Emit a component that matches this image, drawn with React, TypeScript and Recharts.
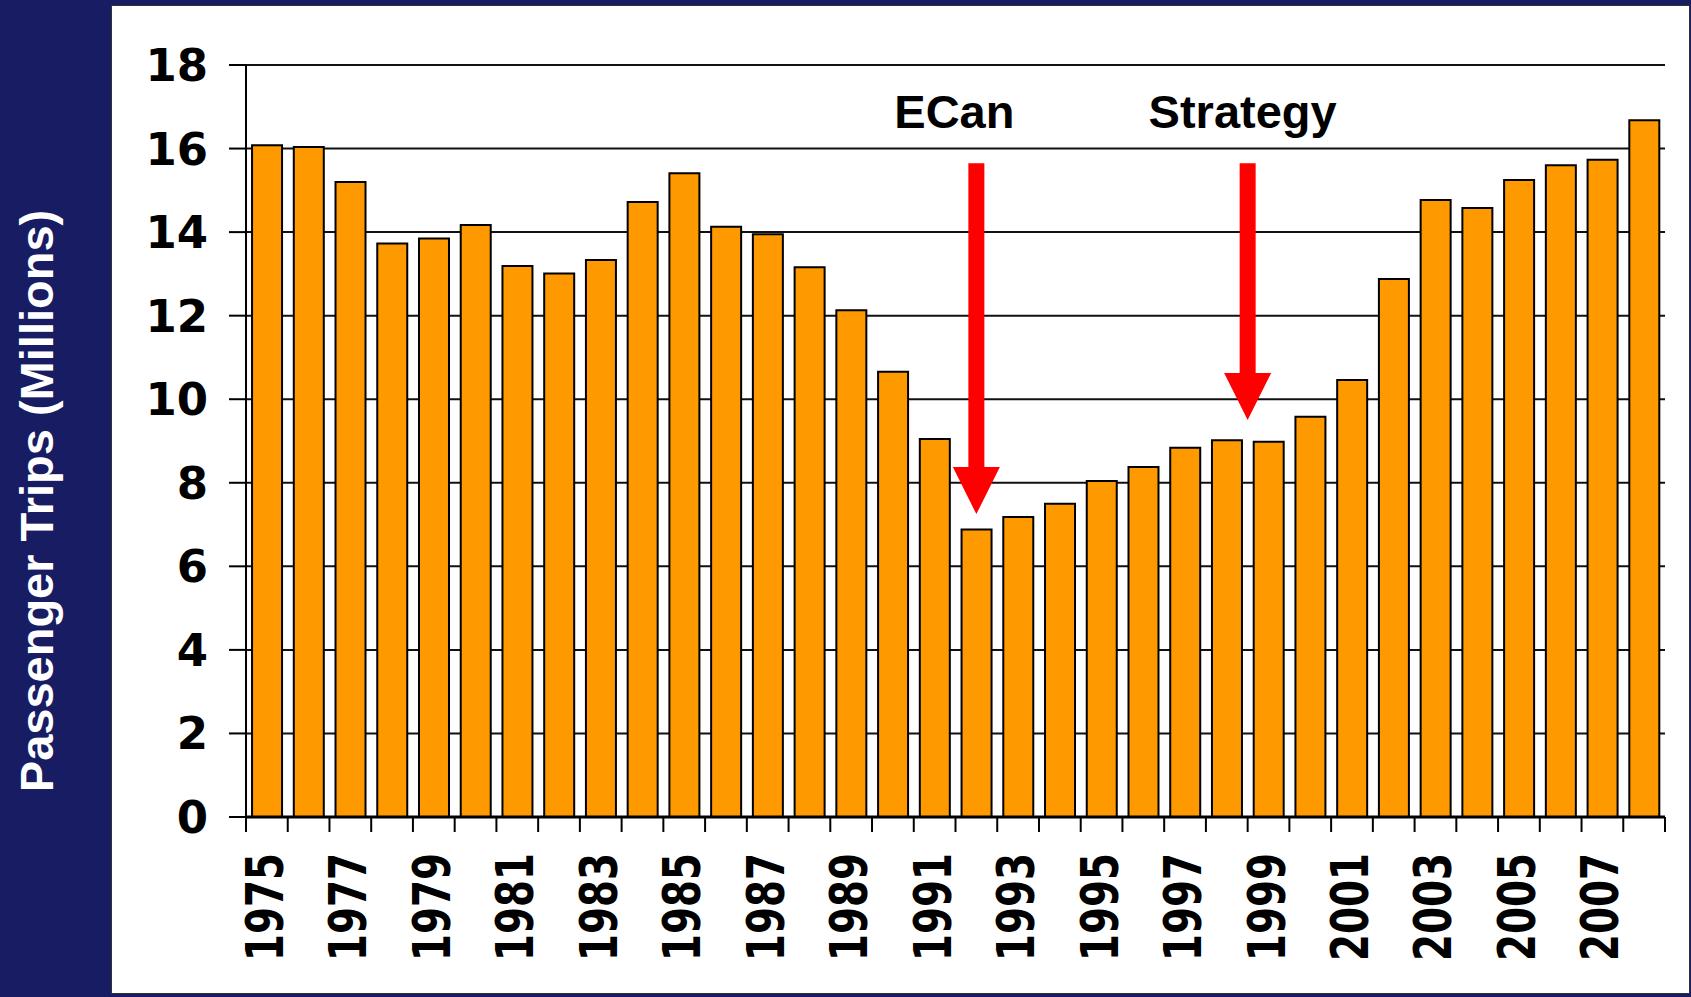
import React from 'react';
import {
  BarChart, Bar, XAxis, YAxis, CartesianGrid, ReferenceLine
} from 'recharts';

// years on the category axis
const years = [
  '1975', '1976', '1977', '1978', '1979', '1980', '1981', '1982', '1983', '1984',
  '1985', '1986', '1987', '1988', '1989', '1990', '1991', '1992', '1993', '1994',
  '1995', '1996', '1997', '1998', '1999', '2000', '2001', '2002', '2003', '2004',
  '2005', '2006', '2007', '2008'
];

// passenger trips, millions
const trips = [
  16.08, 16.04, 15.2, 13.73, 13.85, 14.17, 13.19, 13.01, 13.33, 14.72,
  15.41, 14.13, 13.95, 13.16, 12.13, 10.66, 9.05, 6.88, 7.18, 7.5,
  8.04, 8.38, 8.84, 9.02, 8.98, 9.58, 10.46, 12.88, 14.77, 14.58,
  15.25, 15.6, 15.73, 16.68
];

const labelYears = [
  '1975', '1977', '1979', '1981', '1983', '1985', '1987', '1989', '1991',
  '1993', '1995', '1997', '1999', '2001', '2003', '2005', '2007'
];

const yTicks = [0, 2, 4, 6, 8, 10, 12, 14, 16, 18];

// arrows: text, year, top value, tip value, band position
const arrowLabels = ['ECan', 'Strategy'];
const arrowYears = ['1992', '1999'];
const arrowTops = [15.65, 15.65];
const arrowTips = [7.25, 9.5];
const arrowPositions: ('middle' | 'start')[] = ['middle', 'start'];
const arrowTextShift = [-22, -5];

const data = years.map((year, i) => ({ year, trips: trips[i] }));

const NAVY = '#171c63';
const ORANGE = '#ff9900';

const XTick = (props: any) => {
  const { x, y, payload } = props;
  const half = payload.offset ?? 0;
  const isLast = payload.value === years[years.length - 1];
  return (
    <g>
      <line x1={x - half} x2={x - half} y1={y} y2={y + 15} stroke="#000" strokeWidth={2} />
      {isLast && (
        <line x1={x + half} x2={x + half} y1={y} y2={y + 15} stroke="#000" strokeWidth={2} />
      )}
      {labelYears.includes(payload.value) && (
        <text
          x={0}
          y={0}
          transform={`translate(${x + 16},${y + 36}) rotate(-90)`}
          textAnchor="end"
          fontSize={51}
          fontWeight="bold"
          fontFamily="DejaVu Sans"
          fill="#000"
          textLength={108}
          lengthAdjust="spacingAndGlyphs"
        >
          {payload.value}
        </text>
      )}
    </g>
  );
};

const renderArrow = (p: any, i: number) => {
  const x = p.x1;
  const top = p.y1;
  const tip = p.y2;
  const neck = tip - 47;
  const pts = [
    [x - 8, top], [x + 8, top], [x + 8, neck], [x + 23.5, neck],
    [x, tip], [x - 23.5, neck], [x - 8, neck]
  ].map((q) => q.join(',')).join(' ');
  return (
    <g>
      <polygon points={pts} fill="#ff0000" />
      <text
        x={x + arrowTextShift[i]}
        y={top - 35}
        textAnchor="middle"
        fontSize={47}
        fontWeight="bold"
        fontFamily="Liberation Sans, Arial, sans-serif"
        fill="#000"
      >
        {arrowLabels[i]}
      </text>
    </g>
  );
};

const YTitle = () => (
  <text
    x={53}
    y={501}
    transform="rotate(-90 53 501)"
    textAnchor="middle"
    fontSize={47}
    fontWeight="bold"
    fontFamily="Liberation Sans, Arial, sans-serif"
    fill="#ffffff"
  >
    Passenger Trips (Millions)
  </text>
);

export default function App() {
  return (
    <div style={{ position: 'absolute', left: 0, top: 0, width: 1691, height: 997, background: NAVY }}>
      <div
        style={{
          position: 'absolute', left: 111, top: 5, width: 1577, height: 987,
          background: '#fff', border: '1px solid #333'
        }}
      />
      <div style={{ position: 'absolute', left: 0, top: 0 }}>
        <BarChart
          width={1691}
          height={997}
          data={data}
          margin={{ top: 65, right: 26, bottom: 0, left: 0 }}
          barCategoryGap="14.5%"
        >
          <CartesianGrid vertical={false} stroke="#111" strokeWidth={2} />
          <XAxis
            dataKey="year"
            height={180}
            interval={0}
            tickLine={false}
            tickSize={0}
            tickMargin={0}
            axisLine={{ stroke: '#000', strokeWidth: 3 }}
            tick={(p: any) => <XTick {...p} />}
          />
          <YAxis
            width={246}
            domain={[0, 18]}
            ticks={yTicks}
            interval={0}
            tickSize={17}
            tickMargin={21}
            tickLine={{ stroke: '#000', strokeWidth: 2 }}
            axisLine={{ stroke: '#000', strokeWidth: 2 }}
            tick={{ fill: '#000', fontSize: 45, fontWeight: 'bold', fontFamily: 'DejaVu Sans' }}
            label={{ content: () => <YTitle /> }}
          />
          <YAxis
            yAxisId="right"
            orientation="right"
            width={0}
            domain={[0, 18]}
            ticks={yTicks}
            tick={false}
            tickLine={false}
            axisLine={{ stroke: '#000', strokeWidth: 2 }}
          />
          <Bar
            dataKey="trips"
            fill={ORANGE}
            stroke="#000"
            strokeWidth={2}
            isAnimationActive={false}
          />
          {arrowLabels.map((label, i) => (
            <ReferenceLine
              key={label}
              segment={[
                { x: arrowYears[i], y: arrowTops[i] },
                { x: arrowYears[i], y: arrowTips[i] }
              ]}
              position={arrowPositions[i]}
              ifOverflow="visible"
              shape={(p: any) => renderArrow(p, i)}
            />
          ))}
        </BarChart>
      </div>
    </div>
  );
}
